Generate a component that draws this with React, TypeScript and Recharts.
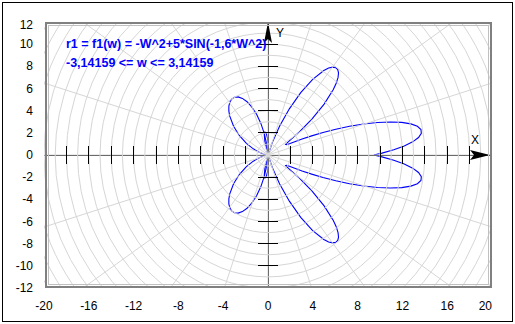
import React from "react";
import {
  ComposedChart,
  Line,
  XAxis,
  YAxis,
  ReferenceLine,
  ReferenceDot,
} from "recharts";

const W = 515;
const H = 324;
const MARGIN = { top: 22, right: 23, bottom: 0, left: 0 };
const X_AXIS_H = 36;
const Y_AXIS_W = 44;
const PLOT_W = W - Y_AXIS_W - MARGIN.right;
const PLOT_H = H - MARGIN.top - X_AXIS_H;
const PX_X = PLOT_W / 40;
const PX_Y = PLOT_H / 24;

const xTickLabels = [-20, -16, -12, -8, -4, 0, 4, 8, 12, 16, 20];
const yTickLabels = [-12, -10, -8, -6, -4, -2, 0, 2, 4, 6, 8, 10, 12];
const xAxisMarks = [-18, -16, -14, -12, -10, -8, -6, -4, -2, 2, 4, 6, 8, 10, 12, 14, 16, 18];
const yAxisMarks = [-10, -8, -6, -4, -2, 2, 4, 6, 8, 10];

// r1 = f1(w), w from -3.14159 to 0  (x, y)
const lobesNegW: [number, number][] = [
  [9.453, 0], [10.179, 0.169], [11.23, 0.468], [12.165, 0.811], [12.918, 1.187],
  [13.438, 1.574], [13.69, 1.951], [13.657, 2.297], [13.341, 2.587], [12.756, 2.807],
  [11.937, 2.941], [10.926, 2.984], [9.774, 2.934], [8.54, 2.798], [7.281, 2.589],
  [6.055, 2.325], [4.912, 2.028], [3.897, 1.724], [3.044, 1.439], [1.91, 1.023],
  [1.646, 0.935], [1.577, 0.949], [1.687, 1.073], [1.953, 1.312], [2.828, 2.113],
  [3.937, 3.26], [5.012, 4.591], [5.832, 5.905], [6.099, 6.492], [6.255, 7.001],
  [6.297, 7.413], [6.226, 7.712], [6.048, 7.887], [5.773, 7.931], [5.413, 7.842],
  [4.986, 7.622], [3.988, 6.82], [2.922, 5.623], [1.907, 4.167], [1.041, 2.613],
  [0.382, 1.118], [-0.052, -0.182], [-0.276, -1.183], [-0.33, -1.82], [-0.269, -2.073],
  [-0.155, -1.956], [-0.044, -1.519], [0.017, -0.828], [-0.003, 0.037], [-0.12, 0.992],
  [-0.338, 1.959], [-0.644, 2.87], [-1.019, 3.67], [-1.436, 4.323], [-1.869, 4.805],
  [-2.287, 5.109], [-2.667, 5.24], [-2.99, 5.213], [-3.241, 5.047], [-3.41, 4.769],
  [-3.495, 4.404], [-3.497, 3.981], [-3.422, 3.523], [-3.074, 2.589], [-2.545, 1.741],
  [-1.928, 1.053], [-1.314, 0.555], [-0.771, 0.239], [-0.353, 0.072], [-0.09, 0.009],
  [0, 0],
];

// w from 0 to 3.14159
const lobesPosW: [number, number][] = [
  [0, 0], [-0.09, -0.009], [-0.353, -0.072], [-0.771, -0.239], [-1.314, -0.555],
  [-1.928, -1.053], [-2.545, -1.741], [-3.074, -2.589], [-3.422, -3.523], [-3.497, -3.981],
  [-3.495, -4.404], [-3.41, -4.769], [-3.241, -5.047], [-2.99, -5.213], [-2.667, -5.24],
  [-2.287, -5.109], [-1.869, -4.805], [-1.436, -4.323], [-1.019, -3.67], [-0.644, -2.87],
  [-0.338, -1.959], [-0.12, -0.992], [-0.003, -0.037], [0.017, 0.828], [-0.044, 1.519],
  [-0.155, 1.956], [-0.269, 2.073], [-0.33, 1.82], [-0.276, 1.183], [-0.052, 0.182],
  [0.382, -1.118], [1.041, -2.613], [1.907, -4.167], [2.922, -5.623], [3.988, -6.82],
  [4.986, -7.622], [5.413, -7.842], [5.773, -7.931], [6.048, -7.887], [6.226, -7.712],
  [6.297, -7.413], [6.255, -7.001], [6.099, -6.492], [5.832, -5.905], [5.012, -4.591],
  [3.937, -3.26], [2.828, -2.113], [1.953, -1.312], [1.687, -1.073], [1.577, -0.949],
  [1.646, -0.935], [1.91, -1.023], [3.044, -1.439], [3.897, -1.724], [4.912, -2.028],
  [6.055, -2.325], [7.281, -2.589], [8.54, -2.798], [9.774, -2.934], [10.926, -2.984],
  [11.937, -2.941], [12.756, -2.807], [13.341, -2.587], [13.657, -2.297], [13.69, -1.951],
  [13.438, -1.574], [12.918, -1.187], [12.165, -0.811], [11.23, -0.468], [10.179, -0.169],
  [9.453, 0],
];

const toPoints = (pts: [number, number][]) => pts.map(([x, y]) => ({ x, y }));

const gridRadii = Array.from({ length: 24 }, (_, i) => i + 1);
const gridAngles = Array.from({ length: 20 }, (_, i) => i * 18);

const FONT = "'Liberation Sans', Arial, sans-serif";

function PolarGrid(props: any) {
  const { cx, cy } = props;
  if (cx == null || cy == null) return null;
  const left = cx - 20 * PX_X;
  const top = cy - 12 * PX_Y;
  return (
    <g>
      <defs>
        <clipPath id="polar-grid-clip">
          <rect x={left} y={top} width={40 * PX_X} height={24 * PX_Y} />
        </clipPath>
      </defs>
      <g clipPath="url(#polar-grid-clip)" fill="none" stroke="#d6d6d6" strokeWidth={1}>
        {gridRadii.map((r) => (
          <ellipse key={r} cx={cx} cy={cy} rx={r * PX_X} ry={r * PX_Y} />
        ))}
        {gridAngles.map((a) => {
          const t = (a * Math.PI) / 180;
          return (
            <line
              key={a}
              x1={cx}
              y1={cy}
              x2={cx + 26 * PX_X * Math.cos(t)}
              y2={cy - 26 * PX_Y * Math.sin(t)}
            />
          );
        })}
      </g>
    </g>
  );
}

const XMark = (props: any) =>
  props.cx == null ? null : (
    <line x1={props.cx} x2={props.cx} y1={props.cy - 9} y2={props.cy + 9} stroke="#000" shapeRendering="crispEdges" />
  );

const YMark = (props: any) =>
  props.cx == null ? null : (
    <line x1={props.cx - 10} x2={props.cx + 10} y1={props.cy} y2={props.cy} stroke="#000" shapeRendering="crispEdges" />
  );

const XArrow = (props: any) => {
  const { cx, cy } = props;
  if (cx == null) return null;
  const tip = cx - 2;
  return (
    <g>
      <polygon
        points={`${tip - 20},${cy - 5} ${tip},${cy} ${tip - 20},${cy + 5} ${tip - 16},${cy}`}
        fill="#000"
      />
      <text x={cx - 17} y={cy - 11} textAnchor="middle" fontSize={12} fontFamily={FONT} fill="#000">
        X
      </text>
    </g>
  );
};

const YArrow = (props: any) => {
  const { cx, cy } = props;
  if (cx == null) return null;
  return (
    <g>
      <polygon
        points={`${cx - 4},${cy + 21} ${cx},${cy} ${cx + 4},${cy + 21} ${cx},${cy + 17}`}
        fill="#000"
      />
      <text x={cx + 12} y={cy + 15} textAnchor="middle" fontSize={12} fontFamily={FONT} fill="#000">
        Y
      </text>
    </g>
  );
};

const XTick = (props: any) => {
  const { x, y, payload } = props;
  const v = payload.value;
  return (
    <text
      x={x}
      y={y + 22}
      textAnchor={v === 20 ? "end" : "middle"}
      fontSize={12}
      fontFamily={FONT}
      fill="#000"
    >
      {v}
    </text>
  );
};

const YTick = (props: any) => {
  const { x, y, payload } = props;
  const v = payload.value;
  return (
    <text
      x={x - 11}
      y={y + 4 + (v === 12 ? 3 : 0)}
      textAnchor="end"
      fontSize={12}
      fontFamily={FONT}
      fill="#000"
    >
      {v}
    </text>
  );
};

export default function App() {
  return (
    <div style={{ position: "absolute", left: 0, top: 0, width: W, height: H, background: "#fff" }}>
      <ComposedChart width={W} height={H} margin={MARGIN}>
        <XAxis
          type="number"
          dataKey="x"
          domain={[-20, 20]}
          ticks={xTickLabels}
          allowDataOverflow
          axisLine={false}
          tickLine={false}
          tickSize={0}
          tickMargin={0}
          height={X_AXIS_H}
          interval={0}
          tick={<XTick />}
        />
        <YAxis
          type="number"
          dataKey="y"
          domain={[-12, 12]}
          ticks={yTickLabels}
          allowDataOverflow
          axisLine={false}
          tickLine={false}
          tickSize={0}
          tickMargin={0}
          width={Y_AXIS_W}
          interval={0}
          tick={<YTick />}
        />
        <ReferenceDot x={0} y={0} r={0} shape={PolarGrid} ifOverflow="visible" />
        <Line
          data={toPoints(lobesNegW)}
          dataKey="y"
          type="linear"
          stroke="#0000ff"
          strokeWidth={1.1}
          dot={false}
          activeDot={false}
          isAnimationActive={false}
        />
        <Line
          data={toPoints(lobesPosW)}
          dataKey="y"
          type="linear"
          stroke="#0000ff"
          strokeWidth={1.1}
          dot={false}
          activeDot={false}
          isAnimationActive={false}
        />
        <ReferenceLine x={0} stroke="#000" strokeWidth={1} shapeRendering="crispEdges" />
        <ReferenceLine y={0} stroke="#000" strokeWidth={1} shapeRendering="crispEdges" />
        {xAxisMarks.map((v) => (
          <ReferenceDot key={`xm${v}`} x={v} y={0} r={0} shape={XMark} ifOverflow="visible" />
        ))}
        {yAxisMarks.map((v) => (
          <ReferenceDot key={`ym${v}`} x={0} y={v} r={0} shape={YMark} ifOverflow="visible" />
        ))}
        <ReferenceDot x={20} y={0} r={0} shape={XArrow} ifOverflow="visible" />
        <ReferenceDot x={0} y={12} r={0} shape={YArrow} ifOverflow="visible" />
      </ComposedChart>
      <svg
        width={W}
        height={H}
        style={{ position: "absolute", left: 0, top: 0, pointerEvents: "none" }}
      >
        <rect x={2.5} y={2.5} width={510} height={319} fill="none" stroke="#000" />
        <rect x={46} y={23} width={445} height={264} fill="none" stroke="#808080" strokeWidth={2} />
        <rect x={48.5} y={25.5} width={440} height={259} fill="none" stroke="#c0c0c0" strokeWidth={1} />
        <g fontFamily={FONT} fontSize={12.5} fontWeight="bold" fill="#0000ff">
          <text x={66} y={48}>r1 = f1(w) = -W^2+5*SIN(-1,6*W^2)</text>
          <text x={66} y={67}>-3,14159 &lt;= w &lt;= 3,14159</text>
        </g>
      </svg>
    </div>
  );
}
